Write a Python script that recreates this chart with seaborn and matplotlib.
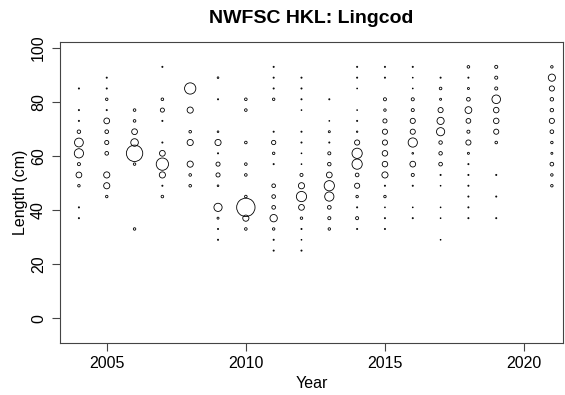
import matplotlib
matplotlib.use("Agg")
import matplotlib.pyplot as plt
import seaborn as sns
import pandas as pd

# Length composition by year: bin mid-points (cm) and proportion of the annual sample
years = [2004, 2005, 2006, 2007, 2008, 2009, 2010, 2011, 2012,
         2013, 2014, 2015, 2016, 2017, 2018, 2019, 2021]

len_2004 = [85, 77, 73, 69, 65, 61, 57, 53, 49, 41, 37]
prop_2004 = [0.002, 0.002, 0.002, 0.018, 0.115, 0.126, 0.014, 0.049, 0.009, 0.002, 0.002]

len_2005 = [89, 85, 81, 77, 73, 69, 65, 61, 53, 49, 45]
prop_2005 = [0.002, 0.002, 0.009, 0.002, 0.049, 0.020, 0.025, 0.020, 0.056, 0.056, 0.009]

len_2006 = [77, 73, 69, 65, 61, 57, 33]
prop_2006 = [0.010, 0.010, 0.049, 0.085, 0.397, 0.009, 0.009]

len_2007 = [93, 81, 77, 73, 65, 61, 57, 53, 49, 45]
prop_2007 = [0.002, 0.010, 0.025, 0.002, 0.002, 0.049, 0.223, 0.056, 0.002, 0.010]

len_2008 = [85, 77, 69, 65, 57, 53, 49]
prop_2008 = [0.188, 0.056, 0.010, 0.056, 0.056, 0.010, 0.010]

len_2009 = [89, 81, 69, 65, 61, 57, 53, 49, 41, 37, 33, 29]
prop_2009 = [0.004, 0.002, 0.004, 0.056, 0.002, 0.025, 0.025, 0.004, 0.099, 0.006, 0.002, 0.002]

len_2010 = [81, 77, 65, 57, 53, 45, 41, 37, 33]
prop_2010 = [0.010, 0.010, 0.010, 0.010, 0.010, 0.010, 0.502, 0.056, 0.010]

len_2011 = [93, 89, 85, 81, 69, 65, 61, 57, 49, 45, 41, 37, 33, 29, 25]
prop_2011 = [0.002, 0.002, 0.002, 0.009, 0.002, 0.027, 0.009, 0.002, 0.020, 0.020,
             0.020, 0.080, 0.009, 0.002, 0.002]

len_2012 = [89, 85, 81, 77, 69, 65, 61, 57, 53, 49, 45, 41, 37, 33, 29, 25]
prop_2012 = [0.002, 0.002, 0.002, 0.001, 0.002, 0.002, 0.001, 0.001, 0.014, 0.056,
             0.155, 0.049, 0.009, 0.002, 0.001, 0.002]

len_2013 = [81, 73, 69, 65, 61, 57, 53, 49, 45, 41, 37, 33]
prop_2013 = [0.002, 0.001, 0.006, 0.002, 0.014, 0.018, 0.049, 0.155, 0.126, 0.020, 0.014, 0.009]

len_2014 = [93, 89, 85, 77, 73, 69, 65, 61, 57, 53, 49, 45, 41, 37, 33]
prop_2014 = [0.002, 0.002, 0.001, 0.001, 0.002, 0.003, 0.039, 0.155, 0.155, 0.020,
             0.039, 0.009, 0.002, 0.014, 0.002]

len_2015 = [93, 89, 81, 77, 73, 69, 65, 61, 57, 53, 49, 45, 41, 37, 33]
prop_2015 = [0.002, 0.002, 0.014, 0.009, 0.025, 0.039, 0.039, 0.045, 0.045, 0.056,
             0.002, 0.009, 0.001, 0.002, 0.002]

len_2016 = [93, 89, 85, 81, 77, 73, 69, 65, 61, 57, 53, 49, 41, 37]
prop_2016 = [0.002, 0.001, 0.001, 0.014, 0.014, 0.039, 0.039, 0.126, 0.004, 0.049,
             0.014, 0.002, 0.001, 0.002]

len_2017 = [89, 85, 81, 77, 73, 69, 65, 61, 57, 53, 49, 41, 37, 29]
prop_2017 = [0.002, 0.010, 0.006, 0.039, 0.076, 0.099, 0.018, 0.018, 0.020, 0.002,
             0.001, 0.001, 0.001, 0.001]

len_2018 = [93, 89, 85, 81, 77, 73, 69, 65, 61, 57, 53, 49, 45, 41, 37]
prop_2018 = [0.010, 0.002, 0.006, 0.020, 0.068, 0.033, 0.014, 0.039, 0.006, 0.002,
             0.002, 0.002, 0.002, 0.002, 0.002]

len_2019 = [93, 89, 85, 81, 77, 73, 69, 65, 53, 45, 37]
prop_2019 = [0.014, 0.014, 0.014, 0.109, 0.045, 0.045, 0.039, 0.010, 0.002, 0.002, 0.002]

len_2021 = [93, 89, 85, 81, 77, 73, 69, 65, 61, 57, 53, 49]
prop_2021 = [0.009, 0.076, 0.039, 0.018, 0.018, 0.039, 0.020, 0.009, 0.006, 0.020, 0.009, 0.009]

lengths_by_year = [len_2004, len_2005, len_2006, len_2007, len_2008, len_2009,
                   len_2010, len_2011, len_2012, len_2013, len_2014, len_2015,
                   len_2016, len_2017, len_2018, len_2019, len_2021]
props_by_year = [prop_2004, prop_2005, prop_2006, prop_2007, prop_2008, prop_2009,
                 prop_2010, prop_2011, prop_2012, prop_2013, prop_2014, prop_2015,
                 prop_2016, prop_2017, prop_2018, prop_2019, prop_2021]

x_ticks = [2005, 2010, 2015, 2020]
y_ticks = [0, 20, 40, 60, 80, 100]

rows = []
for yr, lens, props in zip(years, lengths_by_year, props_by_year):
    for ln, pr in zip(lens, props):
        rows.append({"Year": yr, "Length": ln, "Prop": pr})
df = pd.DataFrame(rows)

sns.set_style("white")
plt.rcParams["font.family"] = ["Liberation Sans", "DejaVu Sans"]
plt.rcParams["text.color"] = "black"
plt.rcParams["axes.labelcolor"] = "black"
plt.rcParams["xtick.color"] = "black"
plt.rcParams["ytick.color"] = "black"

fig = plt.figure(figsize=(5.65, 3.95), dpi=100)
ax = fig.add_axes([60 / 565, 1 - 343 / 395, 503 / 565, 301 / 395])

# Bubble area proportional to the proportion at length
sns.scatterplot(data=df, x="Year", y="Length", size="Prop",
                sizes=(0, 175), size_norm=(0, 0.5), legend=False,
                facecolor="none", edgecolor="black", linewidth=0.6, ax=ax)
for coll in ax.collections:
    coll.set_facecolor("none")
    coll.set_edgecolor("black")

ax.set_xlim(2003.32, 2021.4)
ax.set_ylim(-9.2, 102.2)
ax.set_xticks(x_ticks)
ax.set_yticks(y_ticks)
ax.set_xticklabels([str(t) for t in x_ticks], fontsize=11.5)
ax.set_yticklabels([str(t) for t in y_ticks], fontsize=11.5, rotation=90, va="center")
ax.tick_params(axis="both", direction="out", length=6, width=0.8, color="#444444",
               labelcolor="black", left=True, bottom=True, pad=3)
ax.tick_params(axis="y", pad=4)

for sp in ax.spines.values():
    sp.set_visible(True)
    sp.set_color("#444444")
    sp.set_linewidth(0.8)

ax.set_xlabel("Year", fontsize=11.5, labelpad=4, color="black")
ax.set_ylabel("Length (cm)", fontsize=11.5, labelpad=2, color="black")
ax.set_title("NWFSC HKL: Lingcod", fontsize=14, fontweight="bold", pad=14, color="black")

fig.savefig("out.png", dpi=100)
